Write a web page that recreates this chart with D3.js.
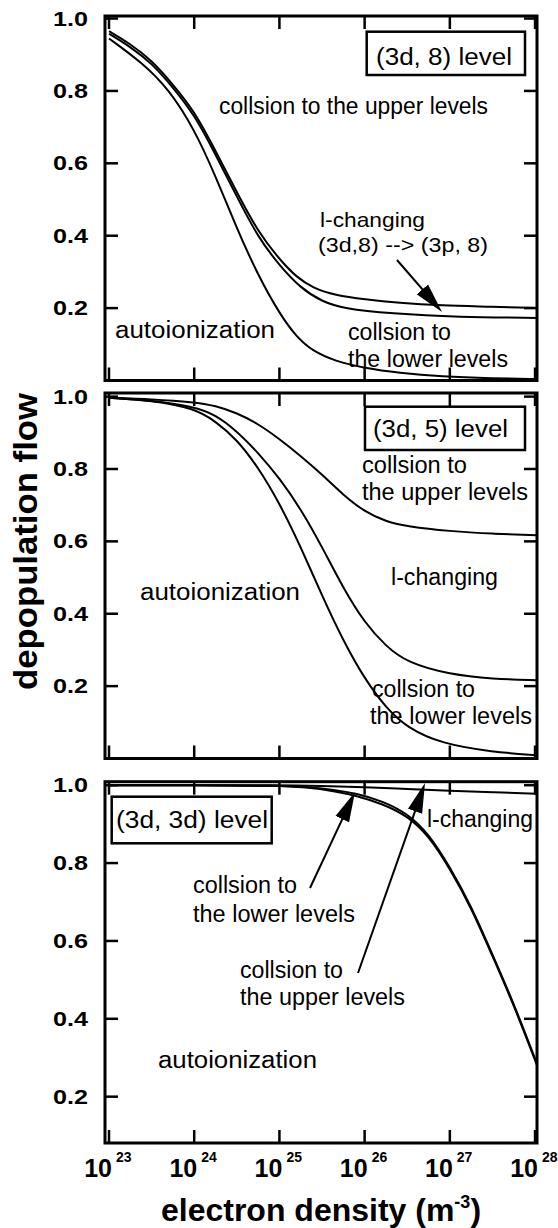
<!DOCTYPE html>
<html>
<head>
<meta charset="utf-8">
<script src="https://cdn.jsdelivr.net/npm/d3@7"></script>
<style>
  body { margin: 0; background: #fff; }
  svg { display: block; }
  text { font-family: "Liberation Sans", Arial, Helvetica, sans-serif; fill: #000; }
</style>
</head>
<body>
<div id="chart"></div>
<script>

////////////////////////////
// Data                   //
////////////////////////////

// x axis: electron density decades (m^-3), given as log10
var decades = [23, 24, 25, 26, 27, 28];
var yTicks = [0.2, 0.4, 0.6, 0.8, 1.0];
var yTickLabels = ['0.2', '0.4', '0.6', '0.8', '1.0'];

// curves are [log10 density, depopulation flow]
// (3d, 8) level
var d8Upper = [[23, .965], [23.25, .93], [23.5, .885], [23.75, .818], [24, .745], [24.25, .635],
  [24.5, .52], [24.75, .41], [25, .335], [25.2, .285], [25.4, .255], [25.65, .236],
  [26, .224], [26.4, .214], [26.9, .207], [27.5, .204], [28.02, .2]];
var d8Middle = [[23, .958], [23.25, .922], [23.5, .877], [23.75, .81], [24, .735], [24.25, .625],
  [24.5, .508], [24.75, .395], [25, .318], [25.25, .255], [25.5, .218], [25.75, .199],
  [26.3, .185], [27.1, .175], [28.02, .173]];
var d8Lower = [[23, .945], [23.4, .876], [23.7, .805], [24, .695], [24.25, .565], [24.5, .42],
  [24.75, .29], [25, .185], [25.2, .12], [25.4, .08], [25.65, .054],
  [26, .034], [26.4, .021], [26.9, .011], [27.5, .006], [28.02, .004]];

// (3d, 5) level
var d5Upper = [[23, .997], [23.5, .993], [24, .985], [24.25, .975], [24.5, .955], [24.75, .925],
  [25, .883], [25.25, .836], [25.5, .785], [25.75, .728], [26, .682], [26.25, .655],
  [26.5, .641], [27, .628], [27.5, .621], [28.02, .617]];
var d5Middle = [[23, .997], [23.5, .99], [24, .972], [24.25, .95], [24.5, .905], [24.75, .845],
  [25, .775], [25.25, .69], [25.5, .585], [25.75, .47], [26, .375], [26.25, .31], [26.5, .265],
  [27, .232], [27.5, .22], [28.02, .216]];
var d5Lower = [[23, .997], [23.5, .99], [24, .968], [24.25, .932], [24.5, .882], [24.75, .805],
  [25, .706], [25.25, .585], [25.5, .45], [25.75, .325], [26, .22], [26.25, .14], [26.5, .085],
  [26.9, .041], [27.5, .018], [28.02, .009]];

// (3d, 3d) level
var d3Lchange = [[23, 1.0], [24, 1.0], [25, 1.0], [25.5, .998], [26, .995], [26.5, .99],
  [27, .986], [27.5, .982], [28.02, .978]];
var d3Lower = [[23, 1.0], [24, 1.0], [25, .999], [25.3, .996], [25.65, .988], [25.9, .979],
  [26.2, .96], [26.5, .928], [26.75, .876], [27, .79], [27.25, .69], [27.5, .565],
  [27.75, .44], [28.02, .286]];
var d3Upper = [[23, 1.0], [24, 1.0], [25, .999], [25.3, .995], [25.65, .985], [25.9, .973],
  [26.2, .953], [26.5, .922], [26.75, .871], [27, .786], [27.25, .686], [27.5, .561],
  [27.75, .436], [28.02, .282]];

////////////////////////////
// Layout                 //
////////////////////////////

var width = 558, height = 1228;
var left = 105, right = 537;

var panels = [
  {
    top: 16, bottom: 380.5, yMin: 0, yMax: 1.007,
    curves: [d8Upper, d8Middle, d8Lower],
    box: {x: 366.7, y: 31.7, w: 158.3, h: 43.3},
    labels: [
      {text: '(3d, 8) level', x: 376, y: 65, w: 136},
      {text: 'collsion to the upper levels', x: 219, y: 114, w: 269},
      {text: 'l-changing', x: 320, y: 227, w: 105, size: 21},
      {text: '(3d,8) --> (3p, 8)', x: 318, y: 252, w: 170, size: 21},
      {text: 'autoionization', x: 115, y: 338, w: 160},
      {text: 'collsion to', x: 348, y: 340, w: 103},
      {text: 'the lower levels', x: 348, y: 367, w: 160}
    ],
    arrows: [{x1: 397, y1: 260, x2: 442, y2: 312}]
  },
  {
    top: 393, bottom: 758.5, yMin: 0, yMax: 1.01,
    curves: [d5Upper, d5Middle, d5Lower],
    box: {x: 365, y: 406.7, w: 160, h: 43.3},
    labels: [
      {text: '(3d, 5) level', x: 373, y: 437, w: 135},
      {text: 'collsion to', x: 362, y: 473, w: 105},
      {text: 'the upper levels', x: 362, y: 500, w: 166},
      {text: 'l-changing', x: 391, y: 585, w: 107},
      {text: 'autoionization', x: 140, y: 600, w: 160},
      {text: 'collsion to', x: 372, y: 697, w: 103},
      {text: 'the lower levels', x: 370, y: 724, w: 162}
    ],
    arrows: []
  },
  {
    top: 781.7, bottom: 1143, yMin: 0.081, yMax: 1.009,
    curves: [d3Lchange, d3Lower, d3Upper],
    box: {x: 111.7, y: 796.7, w: 160, h: 46.6},
    labels: [
      {text: '(3d, 3d) level', x: 116, y: 828, w: 152},
      {text: 'l-changing', x: 427, y: 827, w: 106},
      {text: 'collsion to', x: 193, y: 893, w: 104},
      {text: 'the lower levels', x: 193, y: 922, w: 162},
      {text: 'collsion to', x: 240, y: 978, w: 103},
      {text: 'the upper levels', x: 240, y: 1005, w: 165},
      {text: 'autoionization', x: 158, y: 1068, w: 159}
    ],
    arrows: [
      {x1: 310, y1: 888, x2: 355, y2: 792},
      {x1: 358, y1: 973, x2: 425, y2: 783}
    ]
  }
];

var svg = d3.select('#chart')
  .append('svg')
    .attr('width', width)
    .attr('height', height);

var defs = svg.append('defs');
defs.append('marker')
    .attr('id', 'head')
    .attr('viewBox', '0 -8 30 16')
    .attr('markerUnits', 'userSpaceOnUse')
    .attr('markerWidth', 30)
    .attr('markerHeight', 16)
    .attr('refX', 30)
    .attr('refY', 0)
    .attr('orient', 'auto')
  .append('path')
    .attr('d', 'M0,-7.5L30,0L0,7.5Z')
    .attr('fill', '#000');

var x = d3.scaleLog()
  .domain([Math.pow(10, 22.953), Math.pow(10, 28.023)])
  .range([left, right]);

var xPos = function(e){ return x(Math.pow(10, e)); };

////////////////////////////
// Panels                 //
////////////////////////////

panels.forEach(function(p, pi){
  var y = d3.scaleLinear().domain([p.yMin, p.yMax]).range([p.bottom, p.top]);
  var g = svg.append('g');

  defs.append('clipPath')
      .attr('id', 'clip' + pi)
    .append('rect')
      .attr('x', left).attr('y', p.top - 4)
      .attr('width', right - left).attr('height', p.bottom - p.top + 4);

  var line = d3.line()
    .x(function(d){ return xPos(d[0]); })
    .y(function(d){ return y(d[1]); })
    .curve(d3.curveBasis);

  g.append('g')
      .attr('clip-path', 'url(#clip' + pi + ')')
    .selectAll('path')
    .data(p.curves)
    .enter().append('path')
      .attr('d', line)
      .attr('fill', 'none')
      .attr('stroke', '#000')
      .attr('stroke-width', 2);

  // frame
  g.append('rect')
      .attr('x', left).attr('y', p.top)
      .attr('width', right - left).attr('height', p.bottom - p.top)
      .attr('fill', 'none')
      .attr('stroke', '#000')
      .attr('stroke-width', 3);

  // ticks on top and bottom edges
  decades.forEach(function(e){
    var xx = xPos(e);
    g.append('line').attr('x1', xx).attr('x2', xx).attr('y1', p.top).attr('y2', p.top + 13);
    g.append('line').attr('x1', xx).attr('x2', xx).attr('y1', p.bottom).attr('y2', p.bottom - 13);
  });

  // ticks on left and right edges
  yTicks.forEach(function(v, i){
    var yy = y(v);
    g.append('line').attr('x1', left).attr('x2', left + 13).attr('y1', yy).attr('y2', yy);
    g.append('line').attr('x1', right).attr('x2', right - 13).attr('y1', yy).attr('y2', yy);
    g.append('text')
        .attr('x', 88)
        .attr('y', yy + 7)
        .attr('text-anchor', 'end')
        .attr('textLength', 35)
        .attr('lengthAdjust', 'spacingAndGlyphs')
        .style('font-weight', 'bold')
        .style('font-size', '20px')
        .text(yTickLabels[i]);
  });

  g.selectAll('line')
      .attr('stroke', '#000')
      .attr('stroke-width', 2.5);

  // level box
  g.append('rect')
      .attr('x', p.box.x).attr('y', p.box.y)
      .attr('width', p.box.w).attr('height', p.box.h)
      .attr('fill', '#fff')
      .attr('stroke', '#000')
      .attr('stroke-width', 2.5);

  p.labels.forEach(function(d){
    g.append('text')
        .attr('x', d.x)
        .attr('y', d.y)
        .attr('textLength', d.w)
        .attr('lengthAdjust', 'spacingAndGlyphs')
        .style('font-size', (d.size || 23) + 'px')
        .text(d.text);
  });

  p.arrows.forEach(function(a){
    // stop the shaft a bit before the tip so the head stays sharp
    var dx = a.x2 - a.x1, dy = a.y2 - a.y1;
    var len = Math.sqrt(dx*dx + dy*dy);
    g.append('line')
        .attr('x1', a.x1).attr('y1', a.y1)
        .attr('x2', a.x2 - dx/len*12).attr('y2', a.y2 - dy/len*12)
        .attr('stroke', '#000')
        .attr('stroke-width', 2);
    g.append('line')
        .attr('x1', a.x2 - dx/len*13).attr('y1', a.y2 - dy/len*13)
        .attr('x2', a.x2).attr('y2', a.y2)
        .attr('stroke', 'none')
        .attr('marker-end', 'url(#head)');
  });
});

////////////////////////////
// Axis labels            //
////////////////////////////

decades.forEach(function(e){
  var xx = xPos(e);
  svg.append('text')
      .attr('x', xx + 3)
      .attr('y', 1177)
      .attr('text-anchor', 'end')
      .style('font-weight', 'bold')
      .style('font-size', '25px')
      .text('10');
  svg.append('text')
      .attr('x', xx + 7)
      .attr('y', 1162)
      .style('font-weight', 'bold')
      .style('font-size', '14px')
      .text(e);
});

svg.append('text')
    .attr('transform', 'translate(36.5,541.5) rotate(-90)')
    .attr('text-anchor', 'middle')
    .attr('textLength', 297)
    .attr('lengthAdjust', 'spacingAndGlyphs')
    .style('font-weight', 'bold')
    .style('font-size', '34px')
    .text('depopulation flow');

var xt = svg.append('text')
    .attr('x', 321)
    .attr('y', 1221)
    .attr('text-anchor', 'middle')
    .style('font-weight', 'bold')
    .style('font-size', '32px');
xt.append('tspan').text('electron density (m');
xt.append('tspan').attr('dy', -13).style('font-size', '18px').text('-3');
xt.append('tspan').attr('dy', 13).text(')');

</script>
</body>
</html>
